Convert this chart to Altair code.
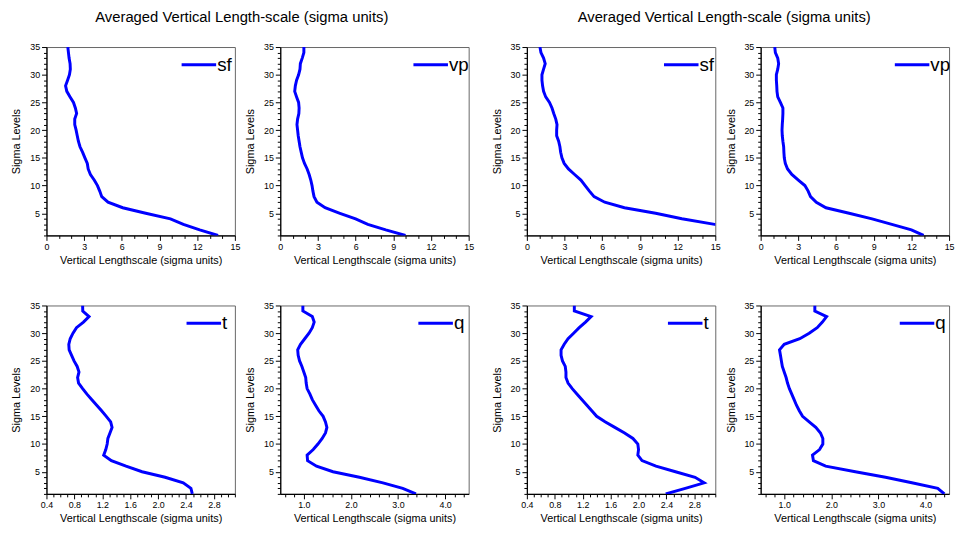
import json
import altair as alt
import pandas as pd

# ---------------- data ----------------
levels = list(range(1, 36))

sf_left = [13.66, 12.2, 10.9, 9.87, 7.9, 6.07, 4.9, 4.4, 4.24, 4.06, 3.8, 3.5, 3.32, 3.25, 3.06,
           2.88, 2.67, 2.54, 2.45, 2.36, 2.25, 2.25, 2.4, 2.3, 2.15, 1.88, 1.62, 1.52, 1.68, 1.83,
           1.9, 1.88, 1.8, 1.75, 1.70]
vp_left = [9.97, 8.4, 6.97, 6.0, 4.75, 3.57, 2.92, 2.69, 2.6, 2.53, 2.43, 2.3, 2.14, 1.93, 1.77,
           1.67, 1.57, 1.5, 1.43, 1.38, 1.33, 1.38, 1.48, 1.5, 1.46, 1.3, 1.15, 1.2, 1.3, 1.46,
           1.57, 1.6, 1.75, 1.88, 1.88]
t_left = [2.49, 2.47, 2.36, 2.1, 1.77, 1.54, 1.33, 1.22, 1.25, 1.27, 1.28, 1.31, 1.34, 1.32, 1.257,
          1.19, 1.12, 1.05, 0.98, 0.918, 0.86, 0.846, 0.866, 0.84, 0.795, 0.76, 0.725, 0.72, 0.74, 0.78,
          0.83, 0.93, 1.01, 0.92, 0.918]
q_left = [3.38, 3.1, 2.68, 2.18, 1.62, 1.27, 1.08, 1.07, 1.2, 1.3, 1.39, 1.46, 1.49, 1.46, 1.41,
          1.32, 1.25, 1.18, 1.13, 1.07, 1.05, 1.04, 1.0, 0.96, 0.91, 0.88, 0.87, 0.93, 1.02, 1.11,
          1.18, 1.22, 1.18, 0.98, 0.98]

sf_right = [21.0, 18.0, 14.95, 12.34, 10.25, 7.77, 6.2, 5.35, 4.98, 4.64, 4.3, 3.8, 3.31, 2.97, 2.79,
            2.69, 2.63, 2.53, 2.37, 2.37, 2.4, 2.3, 2.14, 2.0, 1.8, 1.5, 1.33, 1.25, 1.2, 1.2,
            1.33, 1.46, 1.33, 1.12, 1.04]
vp_right = [12.97, 12.0, 10.44, 8.87, 7.04, 5.2, 4.43, 3.97, 3.78, 3.52, 3.0, 2.48, 2.14, 1.96, 1.88,
            1.85, 1.83, 1.77, 1.72, 1.7, 1.72, 1.75, 1.77, 1.77, 1.57, 1.36, 1.3, 1.28, 1.25, 1.25,
            1.36, 1.43, 1.36, 1.17, 1.12]
t_right = [2.39, 2.67, 2.94, 2.81, 2.53, 2.25, 2.05, 1.99, 2.0, 1.99, 1.92, 1.8, 1.66, 1.52, 1.4,
           1.33, 1.26, 1.19, 1.12, 1.05, 0.99, 0.96, 0.96, 0.95, 0.91, 0.89, 0.89, 0.935, 0.99, 1.07,
           1.15, 1.24, 1.32, 1.08, 1.08]
q_right = [4.4, 4.26, 3.71, 3.15, 2.51, 1.88, 1.62, 1.6, 1.75, 1.82, 1.82, 1.77, 1.67, 1.53, 1.39,
           1.32, 1.26, 1.21, 1.16, 1.11, 1.07, 1.04, 1.0, 0.96, 0.94, 0.92, 0.9, 1.0, 1.33, 1.53,
           1.70, 1.81, 1.9, 1.65, 1.65]

# axis ticks
wind_domain = [0, 15]
wind_ticks = list(range(0, 16))
wind_major = [0, 3, 6, 9, 12, 15]
t_domain = [0.4, 3.1]
t_ticks = [0.4, 0.5, 0.6, 0.7, 0.8, 0.9, 1.0, 1.1, 1.2, 1.3, 1.4, 1.5, 1.6, 1.7, 1.8, 1.9, 2.0,
           2.1, 2.2, 2.3, 2.4, 2.5, 2.6, 2.7, 2.8, 2.9, 3.0, 3.1]
t_major = [0.4, 0.8, 1.2, 1.6, 2.0, 2.4, 2.8]
q_domain = [0.5, 4.5]
q_ticks = [0.6, 0.8, 1.0, 1.2, 1.4, 1.6, 1.8, 2.0, 2.2, 2.4, 2.6, 2.8, 3.0, 3.2, 3.4, 3.6, 3.8,
           4.0, 4.2, 4.4]
q_major = [1.0, 2.0, 3.0, 4.0]
y_domain = [1, 35]
y_ticks = list(range(1, 36))

title_text = "Averaged Vertical Length-scale (sigma units)"
x_title = "Vertical Lengthscale (sigma units)"
y_title = "Sigma Levels"

FONT = "Liberation Sans"
BLUE = "#0000FF"
W, H = 191, 191


def panel(vals, label, xdom, xticks, xmajor, xfmt, legend_end, title=None, title_dx=198, title_dy=-30):
    df = pd.DataFrame({"lev": levels, "v": vals})
    major_test = f"indexof({json.dumps(xmajor)}, datum.value) >= 0"
    xaxis = alt.Axis(
        values=xticks,
        format=xfmt,
        labelExpr=f"{major_test} ? datum.label : ''",
        tickSize={"condition": {"test": major_test, "value": 5}, "value": 3},
        title=x_title,
    )
    yaxis = alt.Axis(
        values=y_ticks,
        labelExpr="datum.value % 5 === 0 ? datum.label : ''",
        tickSize={"condition": {"test": "datum.value % 5 === 0", "value": 5}, "value": 3},
        title=y_title,
    )
    line = alt.Chart(df).mark_line(color=BLUE, strokeWidth=3, clip=True).encode(
        x=alt.X("v:Q", scale=alt.Scale(domain=xdom, nice=False, zero=False), axis=xaxis),
        y=alt.Y("lev:Q", scale=alt.Scale(domain=y_domain, nice=False, zero=False), axis=yaxis),
        order=alt.Order("lev:Q"),
    )
    leg_df = pd.DataFrame({"label": [label]})
    leg_line = alt.Chart(leg_df).mark_rule(color=BLUE, strokeWidth=3).encode(
        x=alt.value(legend_end - 35), x2=alt.value(legend_end), y=alt.value(18)
    )
    leg_text = alt.Chart(leg_df).mark_text(
        font=FONT, fontSize=19, align="left", baseline="middle", color="black"
    ).encode(x=alt.value(legend_end + 1), y=alt.value(18), text="label:N")
    layers = [line, leg_line, leg_text]
    if title is not None:
        tdf = pd.DataFrame({"t": [title]})
        layers.append(
            alt.Chart(tdf).mark_text(font=FONT, fontSize=15, align="center", baseline="middle", color="black")
            .encode(x=alt.value(title_dx), y=alt.value(title_dy), text="t:N")
        )
    return alt.layer(*layers).properties(width=W, height=H)


p1 = panel(sf_left, "sf", wind_domain, wind_ticks, wind_major, "d", 172, title=title_text, title_dx=198, title_dy=-30)
p2 = panel(vp_left, "vp", wind_domain, wind_ticks, wind_major, "d", 170)
p5 = panel(t_left, "t", t_domain, t_ticks, t_major, ".1f", 177)
p6 = panel(q_left, "q", q_domain, q_ticks, q_major, ".1f", 175)

p3 = panel(sf_right, "sf", wind_domain, wind_ticks, wind_major, "d", 174, title=title_text, title_dx=200, title_dy=-30)
p4 = panel(vp_right, "vp", wind_domain, wind_ticks, wind_major, "d", 171)
p7 = panel(t_right, "t", t_domain, t_ticks, t_major, ".1f", 178)
p8 = panel(q_right, "q", q_domain, q_ticks, q_major, ".1f", 176)

left = alt.ConcatChart(concat=[p1, p2, p5, p6], columns=2,
                       spacing={"row": 71, "column": 46}, bounds="flush")
right = alt.ConcatChart(concat=[p3, p4, p7, p8], columns=2,
                        spacing={"row": 71, "column": 46}, bounds="flush")

chart = alt.hconcat(left, right, spacing=16).properties(
    padding={"top": -2, "left": 2, "right": 0, "bottom": 0}
).configure_view(
    stroke="#666666", strokeWidth=1
).configure_axis(
    grid=False,
    domainColor="black",
    domainWidth=1.2,
    tickColor="black",
    tickWidth=1,
    labelFont=FONT,
    labelFontSize=9,
    labelColor="black",
    labelPadding=2,
    labelFlush=False,
    labelOverlap=False,
    titleFont=FONT,
    titleFontSize=11,
    titleFontWeight="normal",
    titleColor="black",
).configure_axisY(titlePadding=8).configure_axisX(titlePadding=3)

chart.save("out.html", embed_options={"renderer": "svg", "actions": False})
